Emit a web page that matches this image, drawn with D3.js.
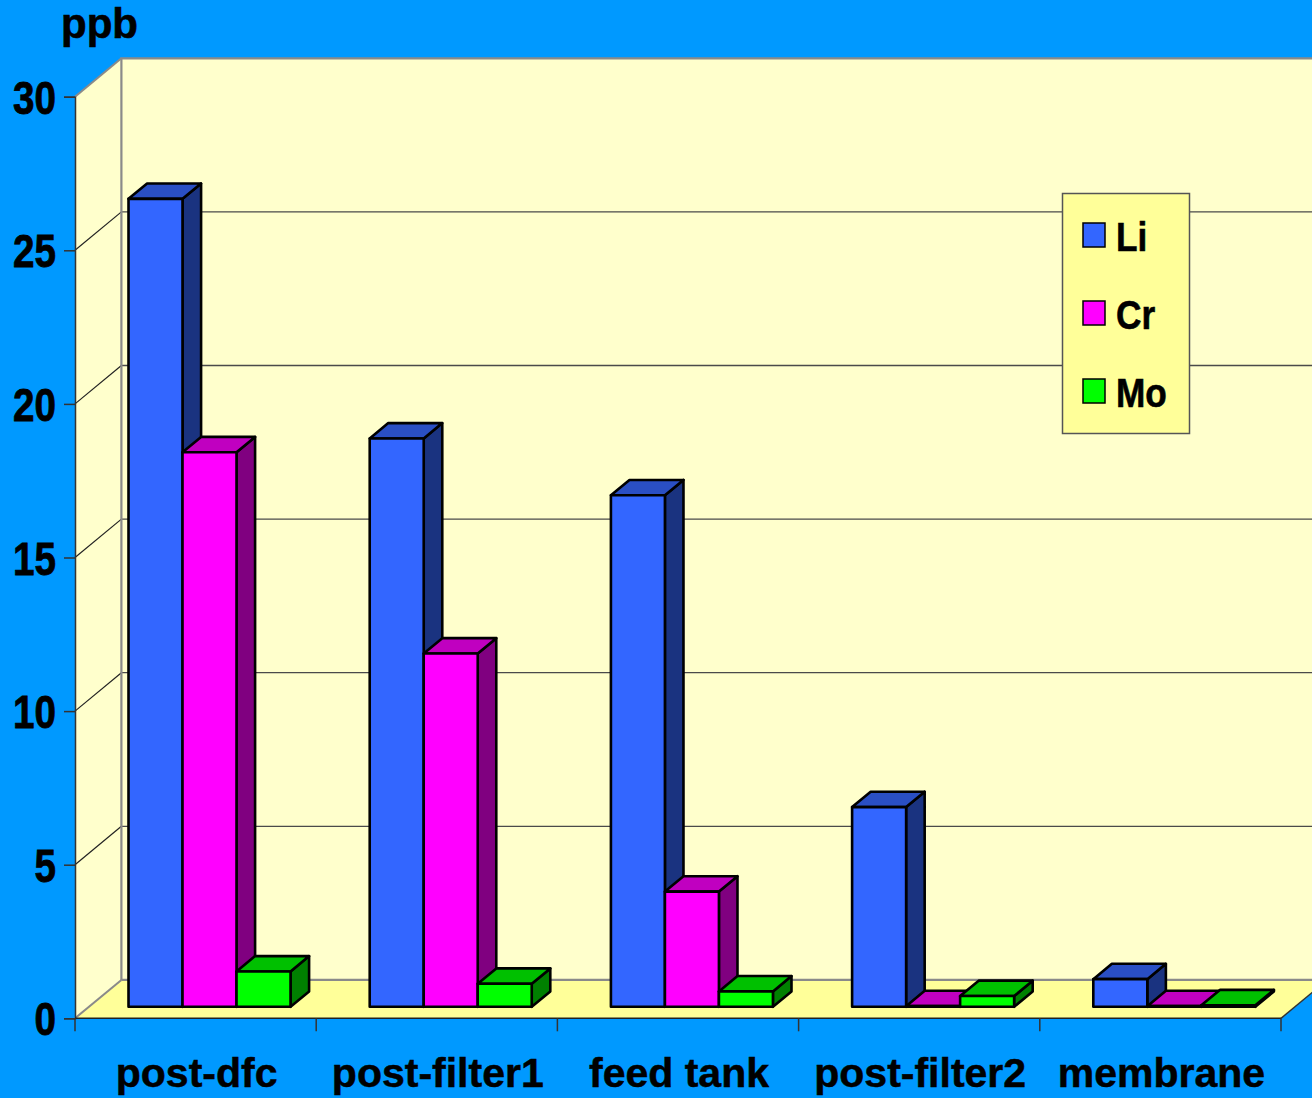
<!DOCTYPE html>
<html>
<head>
<meta charset="utf-8">
<script src="https://cdn.jsdelivr.net/npm/d3@7"></script>
<style>
  html, body { margin: 0; padding: 0; background: #0099FF; }
  svg { display: block; }
  text { font-family: "Liberation Sans", Arial, sans-serif; font-weight: bold; fill: #000; }
</style>
</head>
<body>
<svg id="chart" width="1312" height="1098"></svg>
<script>
// Concentrations (ppb) per sampling point
const categories = ["post-dfc", "post-filter1", "feed tank", "post-filter2", "membrane"];
const seriesNames = ["Li", "Cr", "Mo"];
const liValues = [26.3, 18.5, 16.65, 6.5, 0.9];
const crValues = [18.05, 11.5, 3.75, 0.02, 0.02];
const moValues = [1.15, 0.75, 0.5, 0.35, 0.05];
const yTicks = [0, 5, 10, 15, 20, 25, 30];
const unitLabel = "ppb";

const seriesValues = { Li: liValues, Cr: crValues, Mo: moValues };
const seriesColors = {
  Li: { front: "#3366FF", top: "#2A4FC4", side: "#1A3380" },
  Cr: { front: "#FF00FF", top: "#C000C0", side: "#800080" },
  Mo: { front: "#00FF00", top: "#00C000", side: "#008000" }
};

const svg = d3.select("#chart");

// Front plane of the 3-D box
const plotLeft = 75, plotRight = 1281, plotBottom = 1018.3, plotTop = 96.7;
// Full depth offset of the box (back plane relative to the front plane)
const depthDX = 46.4, depthDY = -38.4;
const barFront = 0.3, barBack = 0.7;

const x0 = d3.scaleBand().domain(categories).range([plotLeft, plotRight]).padding(0);
const x1 = d3.scaleBand().domain(seriesNames).range([0, x0.bandwidth()])
  .paddingInner(0).paddingOuter(0.733);
const y = d3.scaleLinear().domain([0, 30]).range([plotBottom, plotTop]);

// Project a point (front-plane x, value, depth fraction) to screen space
const P = (x, v, f) => [x + depthDX * f, y(v) + depthDY * f];
const poly = pts => "M" + pts.map(p => p.join(",")).join("L") + "Z";

// Walls and floor
const walls = svg.append("g");
walls.append("path")
  .attr("d", poly([P(plotLeft, 0, 1), P(plotLeft, 30, 1), P(plotRight, 30, 1), P(plotRight, 0, 1)]))
  .attr("fill", "#FFFFCC");
walls.append("path")
  .attr("d", poly([P(plotLeft, 0, 0), P(plotLeft, 30, 0), P(plotLeft, 30, 1), P(plotLeft, 0, 1)]))
  .attr("fill", "#FFFFCC");
walls.append("path")
  .attr("d", poly([P(plotLeft, 0, 0), P(plotRight, 0, 0), P(plotRight, 0, 1), P(plotLeft, 0, 1)]))
  .attr("fill", "#FFFF99");

// Gridlines on the back wall and the side wall
const grid = svg.append("g");
yTicks.filter(t => t > 0 && t < 30).forEach(t => {
  const a = P(plotLeft, t, 1), b = P(plotRight, t, 1);
  grid.append("line").attr("x1", a[0]).attr("y1", a[1]).attr("x2", b[0]).attr("y2", b[1])
    .attr("stroke", "#4a4a4a").attr("stroke-width", 1.3);
  const c = P(plotLeft, t, 0);
  grid.append("line").attr("x1", c[0]).attr("y1", c[1]).attr("x2", a[0]).attr("y2", a[1])
    .attr("stroke", "#222").attr("stroke-width", 1.2);
});

// Wall edges
const edgeGray = "#8a8a8a";
const bl0 = P(plotLeft, 0, 1), bl30 = P(plotLeft, 30, 1), br30 = P(plotRight, 30, 1), br0 = P(plotRight, 0, 1);
grid.append("path").attr("d", "M" + [bl0, bl30, br30].map(p => p.join(",")).join("L"))
  .attr("fill", "none").attr("stroke", edgeGray).attr("stroke-width", 2.2);
grid.append("line").attr("x1", bl0[0]).attr("y1", bl0[1]).attr("x2", br0[0]).attr("y2", br0[1])
  .attr("stroke", edgeGray).attr("stroke-width", 2.2);
const fl30 = P(plotLeft, 30, 0);
grid.append("line").attr("x1", fl30[0]).attr("y1", fl30[1]).attr("x2", bl30[0]).attr("y2", bl30[1])
  .attr("stroke", edgeGray).attr("stroke-width", 2);
const fl0 = P(plotLeft, 0, 0);
grid.append("line").attr("x1", fl0[0]).attr("y1", fl0[1]).attr("x2", bl0[0]).attr("y2", bl0[1])
  .attr("stroke", edgeGray).attr("stroke-width", 2);
const fr0 = P(plotRight, 0, 0);
grid.append("line").attr("x1", fr0[0]).attr("y1", fr0[1]).attr("x2", br0[0]).attr("y2", br0[1])
  .attr("stroke", "#333").attr("stroke-width", 1.5);

// 3-D bars, drawn left to right so neighbours overlap correctly
const bars = svg.append("g").attr("stroke", "#000").attr("stroke-width", 2.6).attr("stroke-linejoin", "round");
categories.forEach((cat, i) => {
  seriesNames.forEach(s => {
    const v = seriesValues[s][i];
    const xa = x0(cat) + x1(s), xb = xa + x1.bandwidth();
    const col = seriesColors[s];
    bars.append("path")
      .attr("d", poly([P(xb, 0, barFront), P(xb, v, barFront), P(xb, v, barBack), P(xb, 0, barBack)]))
      .attr("fill", col.side);
    bars.append("path")
      .attr("d", poly([P(xa, v, barFront), P(xb, v, barFront), P(xb, v, barBack), P(xa, v, barBack)]))
      .attr("fill", col.top);
    bars.append("path")
      .attr("d", poly([P(xa, 0, barFront), P(xb, 0, barFront), P(xb, v, barFront), P(xa, v, barFront)]))
      .attr("fill", col.front);
  });
});

// Y axis on the front plane
const yAxis = svg.append("g").attr("transform", `translate(${plotLeft},0)`)
  .call(d3.axisLeft(y).tickValues(yTicks).tickSize(11).tickFormat(d3.format("d")));
yAxis.select(".domain").attr("stroke", "#333").attr("stroke-width", 1.5);
yAxis.selectAll(".tick line").attr("stroke", "#333").attr("stroke-width", 1.5);
yAxis.selectAll(".tick text")
  .attr("font-size", 46).attr("font-family", null)
  .attr("x", null).attr("dy", null)
  .attr("text-anchor", "end")
  .attr("stroke", "#000").attr("stroke-width", 0.8)
  .attr("transform", "translate(-19,16.5) scale(0.84,1)");

// X axis: front edge, boundary ticks and category labels
const xAxisG = svg.append("g");
xAxisG.append("line").attr("x1", plotLeft).attr("x2", plotRight)
  .attr("y1", plotBottom).attr("y2", plotBottom).attr("stroke", "#222").attr("stroke-width", 1.5);
const boundaries = categories.map(c => x0(c)).concat([x0.range()[1]]);
xAxisG.selectAll("line.tick").data(boundaries).join("line").attr("class", "tick")
  .attr("x1", d => d).attr("x2", d => d)
  .attr("y1", plotBottom).attr("y2", plotBottom + 13)
  .attr("stroke", "#333").attr("stroke-width", 1.5);
xAxisG.selectAll("text").data(categories).join("text")
  .attr("x", d => x0(d) + x0.bandwidth() / 2 + 1)
  .attr("y", 1087)
  .attr("text-anchor", "middle")
  .attr("font-size", 41)
  .attr("stroke", "#000").attr("stroke-width", 0.5)
  .text(d => d);

// Unit label
svg.append("text").attr("x", 61).attr("y", 38).attr("font-size", 42)
  .attr("stroke", "#000").attr("stroke-width", 0.6)
  .text(unitLabel);

// Legend
const legend = svg.append("g");
legend.append("rect").attr("x", 1062.5).attr("y", 193.5).attr("width", 127).attr("height", 240)
  .attr("fill", "#FFFF99").attr("stroke", "#555").attr("stroke-width", 1.5);
seriesNames.forEach((s, i) => {
  const cy = 235 + i * 78;
  legend.append("rect").attr("x", 1083).attr("y", cy - 12).attr("width", 22).attr("height", 24)
    .attr("fill", seriesColors[s].front).attr("stroke", "#000").attr("stroke-width", 1.5);
  legend.append("text").attr("x", 1116).attr("y", cy + 16).attr("font-size", 40)
    .attr("stroke", "#000").attr("stroke-width", 0.6)
    .attr("transform", `translate(1116,${cy + 16}) scale(0.88,1) translate(-1116,${-(cy + 16)})`)
    .text(s);
});
</script>
</body>
</html>
